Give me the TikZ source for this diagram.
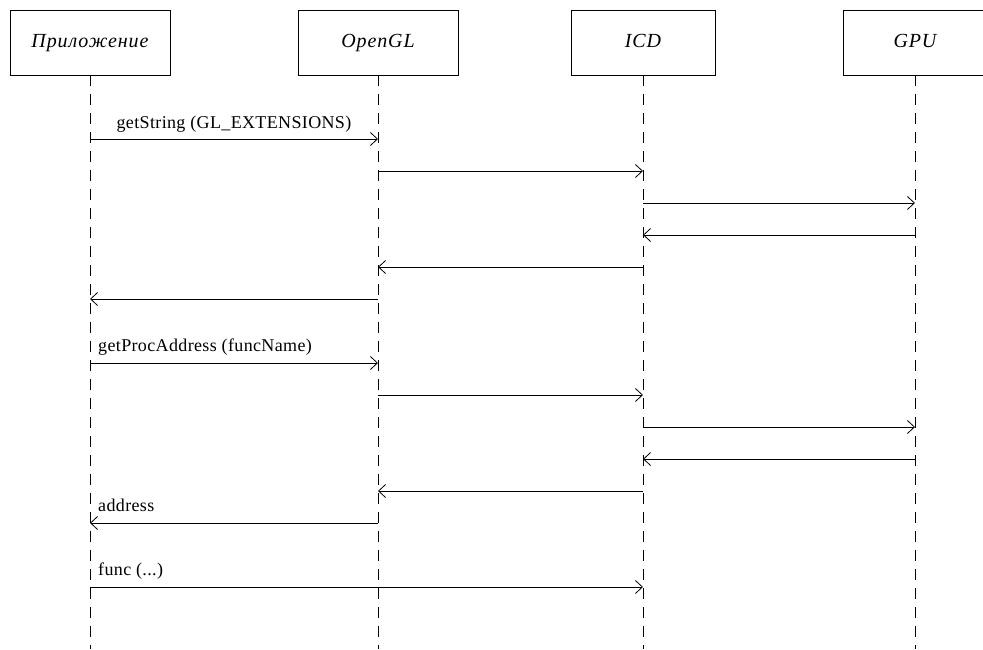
\documentclass[tikz,border=0pt]{standalone}
\usepackage{fontspec}
\setmainfont{Liberation Serif}
\newfontfamily\actorfont[LetterSpace=4.5]{Liberation Serif}
\newfontfamily\msgfont[LetterSpace=2]{Liberation Serif}
\usetikzlibrary{calc,arrows.meta}

\begin{document}
\begin{tikzpicture}[x=1pt,y=-1pt,
    actor/.style={draw,line width=0.8pt,minimum width=160pt,minimum height=65pt,
      text height=14pt,text depth=4pt,font=\actorfont\fontsize{20}{24}\selectfont\itshape},
    life/.style={dash pattern=on 11pt off 8pt,line width=0.8pt},
    msg/.style={-{Straight Barb[length=7pt,width=13pt]},line width=0.8pt},
    lbl/.style={font=\msgfont\fontsize{18}{21}\selectfont,inner sep=0pt}]
    \useasboundingbox (0,0) rectangle (983,649);
    % participants
    \node[actor] (app) at (90,42.5) {Приложение};
    \node[actor] (gl) at (378,42.5) {OpenGL};
    \node[actor,minimum width=144pt] (icd) at (643,42.5) {ICD};
    \node[actor,minimum width=144pt] (gpu) at (915,42.5) {GPU};
    \foreach \n in {app,gl,icd,gpu}
        \draw[life] (\n.south) -- (\n |- 0,649) coordinate (\n-end);
    % messages
    \foreach \y/\a/\b in {139/app/gl,171/gl/icd,203/icd/gpu,235/gpu/icd,267/icd/gl,299/gl/app,
        363/app/gl,395/gl/icd,427/icd/gpu,459/gpu/icd,491/icd/gl,523/gl/app,587/app/icd}
        \draw[msg] (\a |- 0,\y) -- (\b |- 0,\y);
    \node[lbl,anchor=base] (getstr) at ($(app |- 0,128)!0.5!(gl |- 0,128)$) {getString (GL\_EXTENSIONS)};
    \node[lbl,anchor=base west] (getproc) at ($(app |- 0,351)+(8,0)$) {getProcAddress (funcName)};
    \node[lbl,anchor=base west] (addr) at ($(app |- 0,511)+(8,0)$) {address};
    \node[lbl,anchor=base west] (func) at ($(app |- 0,575)+(8,0)$) {func (...)};
\end{tikzpicture}
\end{document}
